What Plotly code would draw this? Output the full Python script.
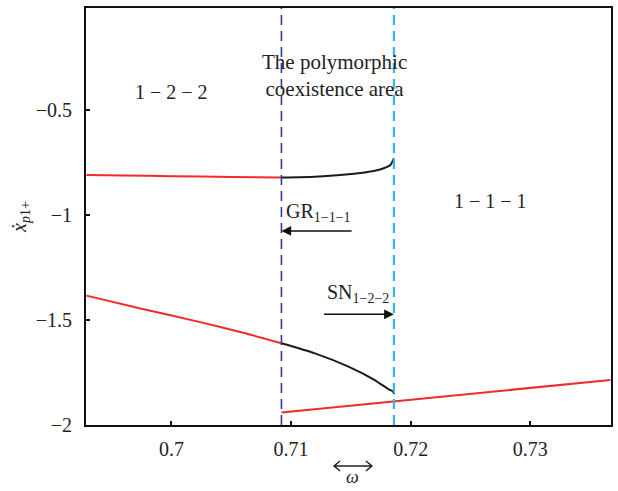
import plotly.graph_objects as go

# ---- data ----
upper_red_x = [0.6929, 0.6960, 0.7000, 0.7050, 0.7092]
upper_red_y = [-0.810, -0.812, -0.815, -0.819, -0.822]

upper_black_x = [0.7092, 0.7120, 0.7141, 0.7158, 0.7170, 0.7178, 0.7183, 0.71860]
upper_black_y = [-0.822, -0.818, -0.810, -0.800, -0.789, -0.776, -0.762, -0.730]

lower_red_x = [0.6929, 0.6975, 0.7024, 0.7060, 0.7092]
lower_red_y = [-1.384, -1.446, -1.510, -1.561, -1.611]

lower_black_x = [0.7092, 0.7120, 0.7148, 0.7170, 0.7181, 0.7185, 0.71862]
lower_black_y = [-1.611, -1.659, -1.722, -1.786, -1.828, -1.840, -1.852]

bottom_red_x = [0.7092, 0.7367]
bottom_red_y = [-1.940, -1.786]

gr_x = 0.7092   # grazing bifurcation (blue dashed)
sn_x = 0.7186   # saddle-node bifurcation (cyan dashed)

x_ticks = [0.70, 0.71, 0.72, 0.73]
x_ticktext = ["0.7", "0.71", "0.72", "0.73"]
y_ticks = [-2, -1.5, -1, -0.5]
y_ticktext = ["\u22122", "\u22121.5", "\u22121", "\u22120.5"]

RED = "#f22a2a"
BLACK = "#1a1a1a"
BLUE = "#3434b0"
CYAN = "#35b6e4"
FONT = "Liberation Serif"

fig = go.Figure()
for xs, ys, col in [
    (upper_red_x, upper_red_y, RED),
    (upper_black_x, upper_black_y, BLACK),
    (lower_red_x, lower_red_y, RED),
    (lower_black_x, lower_black_y, BLACK),
    (bottom_red_x, bottom_red_y, RED),
]:
    fig.add_trace(go.Scatter(x=xs, y=ys, mode="lines",
                             line=dict(color=col, width=2, shape="spline", smoothing=0.6),
                             showlegend=False, hoverinfo="skip"))

fig.add_shape(type="line", xref="x", yref="paper", x0=gr_x, x1=gr_x, y0=0, y1=1,
              line=dict(color=BLUE, width=1.6, dash="10px,6px"))
fig.add_shape(type="line", xref="x", yref="paper", x0=sn_x, x1=sn_x, y0=0, y1=1,
              line=dict(color=CYAN, width=2.2, dash="10px,6px"))

tf = dict(family=FONT, size=20, color="#222")
fig.add_annotation(x=0.70003, y=-0.414, text="1 \u2212 2 \u2212 2", showarrow=False, font=tf,
                   yanchor="middle")
fig.add_annotation(x=0.72667, y=-0.932, text="1 \u2212 1 \u2212 1", showarrow=False, font=tf,
                   yanchor="middle")
fig.add_annotation(x=0.71361, y=-0.335, text="The polymorphic<br>coexistence area",
                   showarrow=False, font=dict(family=FONT, size=21, color="#222"),
                   yanchor="middle")
fig.add_annotation(x=0.70944, y=-0.990, xanchor="left", yanchor="middle",
                   text="GR<sub>1\u22121\u22121</sub>", showarrow=False, font=tf)
fig.add_annotation(x=0.71286, y=-1.372, xanchor="left", yanchor="middle",
                   text="SN<sub>1\u22122\u22122</sub>", showarrow=False, font=tf)
# arrows
fig.add_annotation(x=gr_x, y=-1.076, ax=0.71519, ay=-1.076, axref="x", ayref="y",
                   xref="x", yref="y", text="", showarrow=True, arrowhead=2,
                   arrowsize=1.3, arrowwidth=1.5, arrowcolor="#111")
fig.add_annotation(x=sn_x, y=-1.473, ax=0.71263, ay=-1.473, axref="x", ayref="y",
                   xref="x", yref="y", text="", showarrow=True, arrowhead=2,
                   arrowsize=1.3, arrowwidth=1.5, arrowcolor="#111")

# x axis label: double-headed arrow above omega
x0, x1, ya = 0.4725, 0.5446, -0.0983
dx, dy = 0.0114, 0.012
fig.add_shape(type="path", xref="paper", yref="paper",
              path=(f"M {x0},{ya} L {x1},{ya} "
                    f"M {x0+dx},{ya+dy} L {x0},{ya} L {x0+dx},{ya-dy} "
                    f"M {x1-dx},{ya+dy} L {x1},{ya} L {x1-dx},{ya-dy}"),
              line=dict(color="#222", width=1.5))
fig.add_annotation(xref="paper", yref="paper", x=0.5085, y=-0.154, yanchor="bottom",
                   text="<i>\u03c9</i>", showarrow=False,
                   font=dict(family=FONT, size=18, color="#222"))

axis_common = dict(showgrid=False, zeroline=False, showline=True, linecolor="#111",
                   linewidth=2, mirror=True, ticks="inside", ticklen=4, tickwidth=2,
                   tickcolor="#111", tickfont=dict(family=FONT, size=20, color="#222"))
fig.update_xaxes(range=[0.69286, 0.73675], tickvals=x_ticks, ticktext=x_ticktext,
                 ticklabelstandoff=5, **axis_common)
fig.update_yaxes(range=[-2.0, -0.0143], tickvals=y_ticks, ticktext=y_ticktext,
                 ticklabelstandoff=8,
                 title=dict(text="<i>x\u0307</i><sub><i>p</i>1+</sub>",
                            font=dict(family=FONT, size=20, color="#222"), standoff=4),
                 **axis_common)

fig.update_layout(width=618, height=491, margin=dict(l=86, r=5, t=8, b=66),
                  plot_bgcolor="white", paper_bgcolor="white")
fig.write_html("out.html")
